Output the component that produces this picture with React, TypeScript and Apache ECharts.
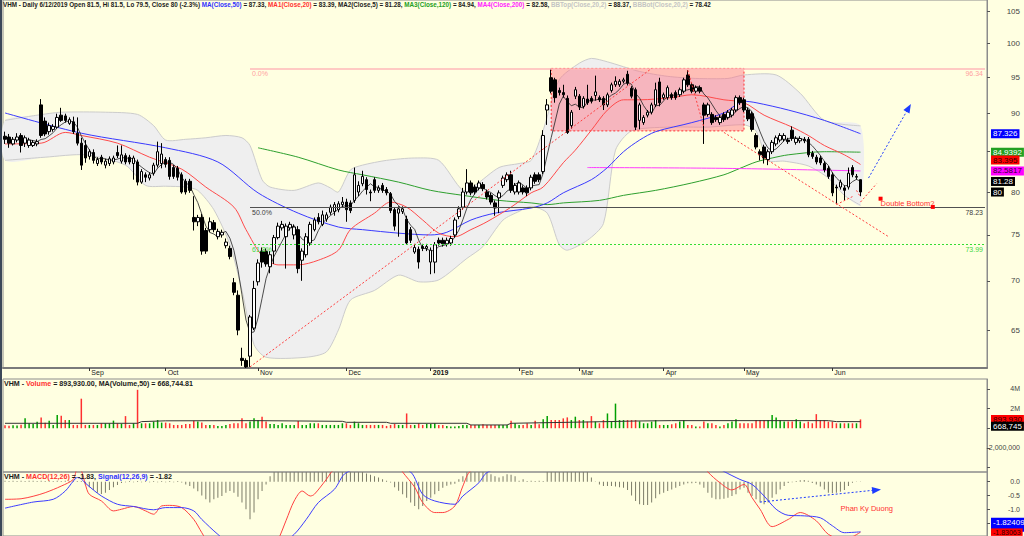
import React, { useEffect, useRef } from 'react';
import * as echarts from 'echarts';

const FONT = 'Liberation Sans, Arial, sans-serif';

// ---------- categories: trading days ----------
const TRADING_DAYS: [string, number[]][] = [
  ['2018-08', [3, 6, 7, 8, 9, 10, 13, 14, 15, 16, 17, 20, 21, 22, 23, 24, 27, 28, 29, 30, 31]],
  ['2018-09', [4, 5, 6, 7, 10, 11, 12, 13, 14, 17, 18, 19, 20, 21, 24, 25, 26, 27, 28]],
  ['2018-10', [1, 2, 3, 4, 5, 8, 9, 10, 11, 12, 15, 16, 17, 18, 19, 22, 23, 24, 25, 26, 29, 30, 31]],
  ['2018-11', [1, 2, 5, 6, 7, 8, 9, 12, 13, 14, 15, 16, 19, 20, 21, 22, 23, 26, 27, 28, 29, 30]],
  ['2018-12', [3, 4, 5, 6, 7, 10, 11, 12, 13, 14, 17, 18, 19, 20, 21, 24, 25, 26, 27, 28, 31]],
  ['2019-01', [2, 3, 4, 7, 8, 9, 10, 11, 14, 15, 16, 17, 18, 21, 22, 23, 24, 25, 28, 29, 30, 31]],
  ['2019-02', [1, 11, 12, 13, 14, 15, 18, 19, 20, 21, 22, 25, 26, 27, 28]],
  ['2019-03', [1, 4, 5, 6, 7, 8, 11, 12, 13, 14, 15, 18, 19, 20, 21, 22, 25, 26, 27, 28, 29]],
  ['2019-04', [1, 2, 3, 4, 5, 8, 9, 10, 11, 12, 16, 17, 18, 19, 22, 23, 24, 25, 26, 29]],
  ['2019-05', [2, 3, 6, 7, 8, 9, 10, 13, 14, 15, 16, 17, 20, 21, 22, 23, 24, 27, 28, 29, 30, 31]],
  ['2019-06', [3, 4, 5, 6, 7, 10, 11, 12]],
];
const EMPTY_SLOTS_AFTER = 31;
const MONTHS = ['Jan', 'Feb', 'Mar', 'Apr', 'May', 'Jun', 'Jul', 'Aug', 'Sep', 'Oct', 'Nov', 'Dec'];

// ---------- candles [open, close, low, high] ----------
const CANDLES: number[][] = [
  [87.0, 86.6, 86.0, 87.6], [86.9, 86.1, 85.5, 87.3], [86.0, 86.6, 85.8, 86.9], [86.5, 86.9, 86.2, 87.4], [87.1, 85.8, 84.9, 87.4],
  [86.1, 86.8, 85.6, 87.1], [85.8, 86.5, 85.5, 86.8], [85.8, 86.2, 85.6, 86.5], [86.0, 86.3, 85.7, 86.6], [91.2, 87.1, 86.8, 92.0],
  [89.0, 87.3, 87.0, 89.5], [87.6, 88.4, 87.2, 88.8], [87.9, 88.3, 87.6, 88.6], [88.2, 89.5, 88.0, 90.0], [89.8, 89.1, 88.9, 90.8],
  [89.7, 89.1, 88.8, 90.0], [88.7, 89.2, 88.5, 89.5], [88.9, 87.6, 87.3, 89.6], [87.4, 86.1, 85.8, 89.5], [86.1, 83.3, 82.7, 86.8],
  [85.8, 84.2, 83.6, 86.5], [84.4, 85.0, 84.0, 85.3], [84.9, 83.9, 83.5, 85.3], [83.5, 84.0, 83.2, 84.3], [84.3, 83.7, 83.4, 84.6],
  [83.3, 83.8, 82.9, 84.1], [83.5, 84.1, 83.2, 84.4], [83.7, 84.2, 83.4, 84.5], [84.9, 84.5, 84.2, 85.8], [83.8, 84.6, 83.5, 85.8],
  [84.5, 83.7, 83.4, 84.8], [84.3, 83.7, 83.4, 84.6], [83.5, 84.2, 81.5, 84.5], [83.7, 81.2, 80.8, 84.0], [81.2, 82.5, 81.0, 82.8],
  [82.1, 81.8, 81.2, 82.4], [81.7, 82.1, 81.4, 82.4], [82.3, 83.3, 82.0, 83.6], [83.3, 85.0, 83.0, 86.3], [83.5, 84.7, 82.9, 86.1],
  [84.0, 83.4, 83.0, 84.3], [83.9, 81.9, 81.5, 84.3], [83.0, 81.9, 81.6, 83.3], [82.9, 81.8, 81.4, 83.2], [82.1, 80.0, 79.8, 82.4],
  [81.3, 80.0, 79.7, 81.6], [81.3, 80.2, 79.9, 81.6], [77.0, 76.5, 75.5, 79.5], [76.5, 77.0, 76.0, 77.3], [77.0, 73.2, 72.8, 77.4],
  [75.5, 73.2, 72.9, 75.8], [75.6, 76.5, 75.3, 77.0], [76.4, 75.6, 75.3, 76.7], [74.8, 75.4, 74.5, 75.7], [75.0, 75.3, 74.7, 75.6],
  [73.8, 74.2, 73.5, 74.6], [73.5, 72.6, 72.3, 73.8], [69.8, 68.8, 68.5, 70.3], [68.5, 65.0, 64.5, 69.0], [62.3, 62.1, 61.6, 63.3],
  [62.1, 61.5, 61.4, 62.3], [62.5, 66.3, 61.5, 66.5], [65.2, 69.2, 65.0, 70.0], [69.9, 71.9, 69.5, 72.3], [73.2, 72.0, 71.4, 73.6],
  [73.2, 71.8, 71.5, 73.5], [71.5, 72.8, 70.8, 73.2], [73.2, 74.7, 71.8, 75.0], [74.7, 76.0, 74.5, 76.4], [75.8, 76.2, 75.5, 76.6],
  [74.8, 76.0, 71.3, 76.3], [75.8, 76.2, 75.5, 76.5], [75.0, 75.9, 74.5, 76.2], [75.6, 71.3, 70.8, 76.0], [72.2, 73.2, 70.0, 73.5],
  [72.8, 74.8, 72.5, 75.2], [74.1, 76.2, 73.8, 76.5], [75.6, 76.7, 75.4, 77.0], [77.0, 76.5, 76.2, 77.5], [76.2, 77.3, 76.0, 77.8],
  [76.8, 77.3, 76.5, 77.6], [77.6, 78.2, 77.3, 78.5], [77.7, 78.5, 77.2, 78.8], [77.9, 78.6, 77.6, 78.9], [78.5, 78.8, 78.2, 79.4],
  [78.8, 77.9, 76.5, 79.2], [78.7, 77.8, 77.5, 79.0], [79.0, 82.1, 78.7, 83.0], [80.0, 80.8, 79.5, 81.3], [81.0, 81.9, 80.7, 82.6],
  [81.5, 80.3, 79.7, 81.8], [80.0, 79.9, 78.9, 80.3], [81.5, 80.2, 79.9, 81.8], [80.2, 80.5, 79.9, 80.8], [80.8, 80.2, 79.9, 81.1],
  [80.3, 79.9, 79.6, 80.6], [79.8, 77.8, 77.5, 80.0], [77.9, 76.0, 75.5, 78.1], [77.5, 78.0, 74.8, 78.3], [77.7, 78.0, 77.4, 78.3],
  [76.8, 74.1, 73.9, 77.2], [75.6, 74.4, 74.1, 75.9], [73.1, 73.6, 72.9, 74.0], [73.4, 72.0, 71.3, 73.7], [73.7, 73.5, 73.2, 74.0],
  [73.5, 73.7, 73.2, 74.0], [72.0, 73.3, 70.7, 73.6], [72.0, 73.9, 70.8, 74.2], [74.4, 74.1, 73.8, 74.7], [74.4, 74.0, 73.7, 74.7],
  [74.0, 74.4, 73.7, 74.7], [74.1, 74.6, 73.8, 74.9], [75.0, 76.7, 74.7, 77.0], [77.1, 78.0, 76.8, 78.3], [78.2, 80.0, 77.9, 80.5],
  [80.0, 81.1, 79.7, 82.8], [81.1, 79.9, 79.6, 81.4], [80.6, 80.0, 79.7, 80.9], [80.5, 81.1, 80.2, 81.4], [80.9, 80.4, 80.1, 81.2],
  [80.0, 79.4, 79.1, 80.3], [79.6, 78.8, 78.5, 79.9], [78.7, 78.1, 77.2, 79.0], [79.3, 79.9, 77.5, 80.2], [80.8, 81.7, 80.5, 82.0],
  [81.5, 82.1, 81.2, 82.4], [82.1, 80.2, 79.9, 82.6], [80.0, 80.8, 79.7, 81.1], [80.0, 81.1, 79.7, 81.4], [80.5, 80.0, 79.7, 80.8],
  [80.5, 79.9, 79.5, 80.8], [80.5, 81.8, 80.2, 82.1], [82.1, 81.3, 81.0, 82.4], [82.1, 81.5, 81.2, 82.4], [82.5, 87.1, 82.2, 87.8],
  [90.5, 91.2, 88.5, 92.0], [95.0, 93.1, 92.8, 96.3], [94.7, 92.2, 91.5, 95.0], [93.2, 92.9, 92.5, 93.6], [92.9, 92.6, 92.2, 94.0],
  [92.1, 87.5, 87.3, 92.5], [88.4, 90.2, 88.0, 90.5], [92.4, 93.3, 92.0, 93.7], [92.4, 90.9, 90.5, 92.7], [91.0, 92.1, 90.7, 92.4],
  [92.0, 91.5, 91.2, 94.0], [92.1, 91.7, 91.4, 92.4], [92.5, 93.0, 91.8, 95.3], [92.2, 91.9, 91.6, 92.5], [92.1, 91.2, 90.5, 92.4],
  [91.2, 92.6, 90.9, 92.9], [93.2, 94.0, 92.9, 94.3], [94.0, 94.5, 93.7, 95.2], [94.0, 94.5, 93.7, 94.8], [94.5, 94.7, 94.2, 95.0],
  [95.5, 94.2, 93.9, 96.0], [93.5, 92.4, 92.1, 93.8], [93.3, 88.2, 87.8, 93.6], [89.1, 91.2, 87.9, 91.5], [88.8, 89.5, 88.5, 89.8],
  [89.8, 90.2, 89.5, 90.5], [90.2, 91.2, 89.9, 91.5], [91.2, 93.3, 90.9, 94.3], [94.4, 91.5, 91.0, 95.0], [92.2, 92.6, 91.9, 92.9],
  [92.2, 93.6, 91.9, 93.9], [92.6, 92.2, 91.9, 92.9], [92.9, 92.2, 91.9, 93.2], [92.6, 93.3, 92.3, 93.6], [93.1, 94.7, 92.8, 95.0],
  [95.4, 94.0, 93.7, 96.1], [94.0, 93.1, 92.8, 94.3], [93.1, 93.6, 92.8, 93.9], [93.6, 93.1, 92.8, 93.9], [91.2, 89.8, 86.0, 91.5],
  [89.9, 91.2, 89.6, 91.5], [89.9, 88.8, 88.5, 90.2], [89.5, 89.2, 88.9, 89.8], [88.8, 89.5, 88.5, 89.8], [89.9, 89.2, 88.9, 90.2],
  [89.5, 90.2, 89.2, 90.5], [89.8, 90.5, 89.5, 90.8], [90.5, 92.2, 90.2, 92.5], [92.2, 91.5, 91.2, 92.5], [91.9, 90.5, 90.2, 92.2],
  [90.5, 89.3, 89.0, 90.8], [90.0, 87.9, 87.6, 90.3], [87.1, 85.6, 85.3, 87.4], [85.0, 84.6, 83.9, 85.3], [85.6, 84.2, 83.5, 85.9],
  [84.0, 85.0, 83.3, 85.3], [85.0, 86.2, 84.7, 86.5], [86.0, 86.8, 85.7, 87.1], [86.5, 87.1, 86.2, 87.4], [86.6, 87.1, 86.3, 87.4],
  [86.5, 86.3, 86.0, 86.8], [87.8, 86.7, 86.4, 88.3], [86.2, 86.7, 85.9, 87.0], [86.4, 86.7, 86.1, 87.0], [86.6, 86.4, 86.1, 86.9],
  [86.6, 84.6, 84.3, 86.9], [84.8, 84.4, 84.1, 85.1], [84.3, 83.7, 83.4, 84.6], [84.2, 83.6, 83.3, 84.5], [83.5, 82.7, 82.4, 83.8],
  [82.9, 81.9, 81.6, 83.2], [82.1, 79.9, 79.5, 82.4], [80.6, 80.5, 78.6, 80.9], [80.6, 81.2, 80.3, 81.5], [80.5, 80.2, 79.0, 80.8],
  [80.6, 82.3, 80.3, 83.0], [83.0, 82.1, 81.8, 83.3], [81.8, 81.9, 81.5, 82.2], [81.5, 80.0, 79.5, 81.5],
];

// ---------- volume (thousand shares) ----------
const VOLUME_K = [
  300, 250, 300, 280, 350, 1000, 500, 430, 650, 1100,
  550, 750, 330, 1330, 1270, 830, 830, 330, 330, 3000,
  330, 330, 330, 330, 500, 500, 500, 770, 500, 450,
  1230, 330, 500, 3900, 500, 500, 500, 670, 830, 570,
  570, 500, 330, 330, 330, 430, 430, 770, 670, 570,
  330, 330, 330, 230, 230, 330, 430, 500, 500, 1000,
  500, 670, 1000, 830, 1170, 670, 430, 430, 330, 500,
  330, 330, 330, 730, 330, 330, 500, 500, 500, 330,
  330, 330, 330, 330, 500, 500, 330, 670, 500, 330,
  330, 330, 330, 330, 330, 230, 330, 430, 330, 330,
  1500, 330, 330, 500, 330, 430, 430, 500, 330, 330,
  230, 170, 170, 230, 330, 330, 330, 330, 330, 400,
  330, 330, 330, 330, 330, 330, 770, 500, 330, 330,
  500, 330, 770, 400, 900, 1230, 830, 830, 830, 1000,
  1100, 830, 1170, 830, 830, 670, 1230, 670, 500, 830,
  1500, 670, 2500, 830, 830, 830, 830, 830, 700, 500,
  500, 670, 830, 330, 330, 330, 400, 500, 670, 830,
  330, 330, 170, 170, 670, 500, 500, 330, 170, 330,
  500, 670, 900, 500, 500, 500, 500, 830, 830, 830,
  830, 1330, 1100, 830, 670, 670, 670, 900, 670, 500,
  670, 500, 1430, 830, 830, 670, 670, 500, 500, 500,
  500, 500, 500, 893.93,
];
const VOLUME_MA50_K: [number, number][] = [
  [0, 500], [33, 500], [34, 670], [40, 750], [62, 770], [84, 700], [85, 600], [95, 600], [96, 500],
  [115, 500], [116, 330], [125, 330], [126, 500], [150, 670], [157, 730], [166, 770], [205, 770], [207, 670], [213, 668.7],
];

// ---------- indicator lines [index, value] ----------
const MA50: [number, number][] = [
  [0, 90.1], [19, 87.4], [40, 85.5], [53, 83.7], [63, 79.9], [73, 77.5], [83, 75.9], [89, 75.6], [98, 75.2],
  [106, 75.0], [110, 75.3], [116, 76.7], [122, 77.5], [131, 78.1], [135, 78.7], [139, 79.9], [146, 81.5],
  [150, 83.0], [154, 85.0], [158, 86.5], [162, 87.6], [171, 88.8], [179, 90.1], [184, 91.7], [187, 91.5],
  [195, 90.5], [204, 89.1], [213, 87.33],
];
const MA20: [number, number][] = [
  [0, 86.0], [9, 86.1], [15, 87.5], [19, 87.1], [28, 86.1], [36, 84.3], [44, 82.8], [50, 80.6], [57, 78.2],
  [60, 75.6], [64, 72.7], [68, 71.7], [73, 71.7], [78, 72.2], [83, 73.3], [86, 75.6], [92, 77.5], [96, 78.8],
  [100, 78.2], [104, 76.7], [108, 75.2], [112, 74.8], [116, 75.6], [120, 76.5], [126, 78.2], [131, 79.9],
  [134, 80.6], [139, 83.6], [142, 85.2], [146, 87.8], [150, 90.5], [154, 91.9], [158, 91.9], [166, 92.2],
  [171, 92.6], [179, 91.9], [184, 91.5], [189, 89.8], [196, 88.2], [200, 87.1], [204, 85.8], [209, 84.6], [213, 83.39],
];
const MA120: [number, number][] = [
  [63, 85.5], [73, 84.3], [83, 82.7], [89, 82.1], [98, 81.2], [106, 80.2], [114, 79.6], [123, 79.0], [131, 78.7],
  [135, 78.5], [139, 78.7], [148, 79.0], [154, 79.6], [162, 80.2], [171, 81.1], [179, 82.1], [183, 82.9],
  [187, 83.7], [191, 84.2], [195, 84.6], [204, 85.0], [213, 84.94],
];
const MA200: [number, number][] = [[145, 83.0], [179, 82.9], [213, 82.58]];
const BB_UPPER: [number, number][] = [
  [0, 89.1], [8, 89.8], [14, 90.2], [25, 90.2], [33, 89.9], [37, 88.4], [40, 86.5], [45, 86.6], [50, 86.8],
  [55, 87.1], [59, 86.8], [61, 85.8], [64, 81.5], [66, 80.6], [72, 80.2], [78, 81.1], [81, 80.5], [83, 80.0],
  [86, 82.7], [89, 83.3], [95, 83.9], [102, 84.2], [108, 83.9], [114, 80.2], [117, 80.8], [123, 83.0],
  [128, 83.5], [131, 83.9], [134, 87.8], [138, 94.7], [143, 97.1], [146, 97.8], [150, 97.3], [158, 95.9],
  [165, 95.2], [172, 94.9], [180, 94.9], [184, 95.4], [192, 95.4], [198, 92.8], [204, 89.1], [213, 88.37],
];
const BB_LOWER: [number, number][] = [
  [0, 83.9], [10, 84.3], [20, 84.6], [30, 83.3], [35, 80.8], [40, 80.7], [45, 80.6], [48, 80.2], [52, 77.9],
  [56, 73.9], [59, 69.0], [62, 63.6], [65, 62.4], [75, 62.4], [80, 62.9], [83, 65.0], [86, 68.0], [92, 69.0],
  [98, 70.6], [103, 69.9], [108, 70.1], [115, 72.4], [119, 73.7], [124, 76.7], [128, 77.7], [131, 78.3],
  [135, 77.5], [138, 73.9], [140, 73.3], [145, 74.4], [149, 76.3], [152, 85.2], [156, 87.7], [165, 88.2],
  [175, 88.2], [184, 88.5], [187, 87.7], [190, 83.9], [194, 83.8], [200, 83.2], [205, 81.7], [209, 79.6], [213, 78.42],
];

// ---------- MACD ----------
const MACD_HIST = [
  0.03, 0.02, 0.03, 0.02, 0.03, 0.02, 0.03, 0.03, 0.02, 0.03, 0.02, 0.03, 0.02, 0.03, 0.02, 0.03, 0.02, 0.03, 0.02,
  0.02,
  -0.1, -0.2, -0.3, -0.4, -0.45, -0.4, -0.3, -0.2, -0.12, -0.05,
  -0.02, 0.02, -0.02, 0.02, -0.02, 0.02, -0.02, 0.02, -0.02, 0.02, -0.02, 0.02, -0.02, 0.02, -0.03,
  -0.1, -0.16, -0.25, -0.35, -0.5, -0.64, -0.76, -0.64, -0.58, -0.52, -0.4, -0.34, -0.4, -0.55, -0.76, -1.0, -1.36, -1.12, -0.64, -0.34, -0.1,
  0.2, 0.35, 0.5, 0.6, 0.7, 0.8, 0.85, 0.9, 0.9, 0.85, 0.8, 0.75, 0.7, 0.65, 0.6, 0.6, 0.55, 0.5, 0.5, 0.45, 0.45, 0.4, 0.4, 0.38, 0.3, 0.25, 0.2,
  0.15, 0.09, 0.03,
  -0.03, -0.2, -0.33, -0.46, -0.58, -0.76, -0.88, -1.0, -0.88, -0.7, -0.58, -0.46, -0.34, -0.22, -0.15, -0.1, -0.08,
  0.09, 0.2,
  0.4, 0.5, 0.55, 0.5, 0.45, 0.4,
  0.27, 0.2, 0.15, 0.2, 0.27,
  0.25, 0.2, 0.03, 0.09,
  0.02, 0.03, 0.02, 0.03, 0.02,
  0.4, 0.5, 0.6, 0.6, 0.55, 0.5, 0.5, 0.45, 0.45, 0.4, 0.38,
  0.15, 0.01,
  -0.1, -0.16, -0.16, -0.16, -0.18, -0.2, -0.22, -0.3, -0.5, -0.7, -0.82, -0.85, -0.85, -0.76, -0.6, -0.46, -0.4, -0.34,
  -0.28, -0.22, -0.16, -0.1, -0.06, -0.06, -0.05, -0.1, -0.22, -0.4, -0.58, -0.64, -0.64, -0.62, -0.58, -0.52, -0.46,
  -0.28, -0.22, -0.4, -0.52, -0.64, -0.76, -0.82, -0.76, -0.58, -0.46, -0.28, -0.16, -0.05, -0.02, 0.02, 0.05, 0.06,
  0.03, -0.05, -0.1, -0.18, -0.28, -0.4, -0.42, -0.4, -0.37, -0.3, -0.16, -0.04, -0.01, -0.01,
];
const MACD_LINE: [number, number][] = [
  [0, -0.64], [4, -0.62], [7, -0.53], [10, -0.4], [14, -0.16], [17, 0.08], [18, 0.45], [19, 0.4], [20, -0.1],
  [21, -0.46], [24, -0.7], [27, -1.06], [29, -1.0], [32, -0.9], [35, -1.06], [37, -1.18], [39, -0.88], [41, -0.86],
  [44, -0.94], [47, -1.37], [49, -1.85], [51, -2.3], [56, -2.9], [61, -3.3], [65, -2.8], [68, -2.1], [70, -1.4],
  [72, -0.7], [74, -0.34], [76, -0.52], [77, -0.46], [80, 0.08], [82, 0.45], [90, 0.9], [98, 0.6], [99, 0.35],
  [102, -0.2], [104, -0.76], [107, -1.12], [109, -1.12], [112, -0.88], [114, -0.16], [116, 0.4], [125, 1.0],
  [140, 1.5], [155, 1.8], [170, 1.2], [175, 0.35], [178, -0.04], [181, -0.3], [184, -0.1], [186, -0.58],
  [188, -1.0], [191, -1.63], [195, -1.37], [198, -1.12], [202, -1.42], [205, -1.91], [209, -2.1], [213, -1.83],
];
const SIGNAL_LINE: [number, number][] = [
  [0, -0.96], [7, -0.74], [12, -0.64], [15, -0.34], [17, 0.02], [18, 0.15], [19, 0.1], [20, -0.05], [22, -0.3],
  [24, -0.52], [28, -0.82], [32, -0.9], [37, -1.02], [40, -0.94], [44, -0.94], [47, -1.06], [49, -1.37],
  [53, -1.91], [60, -2.7], [66, -2.6], [72, -1.91], [75, -1.37], [78, -0.76], [82, -0.28], [85, 0.33], [95, 0.7],
  [101, 0.35], [104, -0.46], [107, -0.7], [112, -0.82], [114, -0.52], [118, -0.04], [120, 0.33], [130, 0.9],
  [150, 1.5], [170, 1.1], [179, 0.37], [183, 0.08], [186, -0.1], [189, -0.52], [192, -1.0], [195, -1.22],
  [199, -1.24], [203, -1.31], [206, -1.6], [209, -1.85], [213, -1.82],
];

// ---------- axis ticks ----------
const PRICE_TICKS = [65, 70, 75, 80, 85, 90, 95, 100, 105];
const PRICE_LABELS = [65, 70, 75, 80, 90, 95, 100, 105];
const VOLUME_TICKS = [-4e6, -2e6, 0, 2e6, 4e6];
const VOLUME_TICK_LABELS: [number, string][] = [[4e6, '4M'], [2e6, '2M'], [-2e6, '-2,000,000']];
const MACD_TICKS = [0, -0.5, -1.0, -1.5];
const MACD_LABELS = [0, -0.5, -1.0];

// ---------- annotations ----------
const FIB_LEVELS: [number, string][] = [[96.34, '0.0%'], [78.23, '50.0%'], [73.99, '61.8%']];
const FIB_START = 61;
const BOX: [[number, number], [number, number]] = [[136, 96.34], [184, 87.7]];
const RED_TRENDS: [[number, number], [number, number]][] = [
  [[61, 61.5], [161, 96.34]],
  [[170, 96.1], [174, 88.2]],
  [[179, 87.5], [220, 74.8]],
  [[207, 78.5], [211, 79.45]],
  [[212, 80.2], [213, 79.4]],
  [[213, 78.8], [217, 81.0]],
];
const BLUE_ARROW: [[number, number], [number, number]] = [[215, 81.7], [225, 90.8]];
const DB_SQUARES: [number, number][] = [[218, 79.2], [231, 78.23]];
const DB_TEXT: [number, number] = [218, 78.6];
const MACD_ARROW: [[number, number], [number, number]] = [[188, -0.74], [217, -0.3]];
const MACD_TEXT: [number, number] = [208, -0.99];
const PRICE_TAGS: [number, string][] = [[87.326, '87.326'], [84.9392, '84.9392'], [83.395, '83.395'], [82.5817, '82.5817'], [81.28, '81.28'], [80, '80']];
const VOLUME_TAGS: [number, string][] = [[893930, '893,930'], [668745, '668,745']];
const MACD_TAGS: [number, string][] = [[-1.82409, '-1.82409'], [-1.83063, '-1.83063']];

const CLEAR = 'rgba(0,0,0,0)';

function buildOption() {
  const dates = TRADING_DAYS.flatMap(([ym, days]) => days.map((d) => `${ym}-${String(d).padStart(2, '0')}`));
  const categories = dates.concat(Array.from({ length: EMPTY_SLOTS_AFTER }, (_, k) => `+${k + 1}`));
  const lastIdx = categories.length - 1;
  const monthLabels = categories.map((c, i) => {
    if (i === 0 || i >= dates.length) return '';
    const m = c.slice(5, 7);
    if (m === categories[i - 1].slice(5, 7)) return '';
    return m === '01' ? `{y|${c.slice(0, 4)}}` : MONTHS[+m - 1];
  });
  const showMonth = (i: number) => monthLabels[i] !== '';

  const ma5: [number, number][] = [];
  for (let i = 4; i < CANDLES.length; i++) {
    let s = 0;
    for (let k = i - 4; k <= i; k++) s += CANDLES[k][1];
    ma5.push([i, s / 5]);
  }

  const volData = VOLUME_K.map((v, i) => ({
    value: v * 1000,
    itemStyle: { color: CANDLES[i][1] > CANDLES[i][0] ? '#00a000' : '#ff3030' },
  }));

  const grids = [
    { left: 3, right: 37, top: 0, height: 368 },
    { left: 3, right: 37, top: 379, height: 93 },
    { left: 3, right: 37, top: 472, height: 64 },
  ].map((g) => ({ ...g, show: true, borderColor: '#8c8c8c', borderWidth: 1, backgroundColor: 'transparent' }));

  const xBase = { type: 'category', data: categories, boundaryGap: true };
  const txt = (size: number, color: string, extra: any = {}) => ({ fontSize: size, fontFamily: FONT, color, ...extra });

  const tag = (value: number, text: string, bg: string, fg: string, va: string, extra: any = {}) => ({
    yAxis: value,
    lineStyle: { color: CLEAR, width: 0 },
    label: {
      show: true, position: 'end', formatter: text, backgroundColor: bg, color: fg,
      fontSize: 8, fontFamily: FONT, padding: [1, 2, 0, 2], verticalAlign: va, distance: 4, ...extra,
    },
  });
  const priceTagStyles: [string, string, string][] = [
    ['#0000ff', '#ffffff', 'middle'], ['#22a022', '#ffffff', 'middle'], ['#ff0000', '#300000', 'bottom'],
    ['#ff00ff', '#300030', 'middle'], ['#000000', '#ffffff', 'middle'], ['#000000', '#ffffff', 'middle'],
  ];
  const fibStyles: any[] = [
    { color: '#ffb8b8', type: 'solid', width: 1.5, text: '#ffa0a0' },
    { color: '#505050', type: 'solid', width: 1, text: '#404040' },
    { color: '#33dd33', type: [2, 2], width: 1, text: '#44d844' },
  ];
  const fibLines: any[] = [];
  FIB_LEVELS.forEach(([v, pct], k) => {
    const st = fibStyles[k];
    fibLines.push([
      { coord: [FIB_START, v], lineStyle: { color: st.color, type: st.type, width: st.width },
        label: { show: true, position: 'insideStartBottom', formatter: pct, distance: 2, ...txt(7, st.text) } },
      { coord: [lastIdx, v] },
    ]);
    fibLines.push([
      { coord: [FIB_START, v], lineStyle: { color: CLEAR, width: 0 },
        label: { show: true, position: 'insideEndBottom', formatter: v.toFixed(2), distance: 2, ...txt(7, st.text) } },
      { coord: [lastIdx, v] },
    ]);
  });
  const trendLines = RED_TRENDS.map(([a, b]) => [
    { coord: a, lineStyle: { color: '#ff4040', type: [2, 2], width: 1 } },
    { coord: b },
  ]);
  const arrowLine = (a: number[], b: number[]) => [
    { coord: a, symbol: 'none', lineStyle: { color: '#1e3cff', type: [2, 2], width: 1 } },
    { coord: b, symbol: 'triangle', symbolSize: [7, 9] },
  ];

  const HS = 6.3;
  const PS = 7.1;
  const header = [
    '{k|VHM - Daily 6/12/2019 Open 81.5, Hi 81.5, Lo 79.5, Close 80 (-2.3%) }',
    '{b|MA(Close,50)}{k| = 87.33, }{r|MA1(Close,20)}{k| = 83.39, MA2(Close,5) = 81.28, }',
    '{g|MA3(Close,120)}{k| = 84.94, }{m|MA4(Close,200)}{k| = 82.58, }',
    '{l|BBTop(Close,20,2)}{k| = 88.37, }{l|BBBot(Close,20,2)}{k| = 78.42}',
  ].join('');
  const richOf = (s: number) => ({
    k: txt(s, '#1a1a1a'), b: txt(s, '#3030ff'), r: txt(s, '#ff3030'), g: txt(s, '#22a022'),
    m: txt(s, '#ff20ff'), l: txt(s, '#c4c4c4'),
  });

  return {
    animation: false,
    backgroundColor: '#ffffe1',
    textStyle: { fontFamily: FONT },
    title: [
      { text: header, left: 3, top: 1, padding: 0, textStyle: { ...txt(HS, '#1a1a1a'), rich: richOf(HS) } },
      { text: '{k|VHM - }{r|Volume}{k| = 893,930.00, MA(Volume,50) = 668,744.81}', left: 4, top: 380, padding: 0, textStyle: { ...txt(PS, '#1a1a1a'), rich: richOf(PS) } },
      { text: '{k|VHM - }{r|MACD(12,26)}{k| = -1.83, }{b|Signal(12,26,9)}{k| = -1.82}', left: 4, top: 473, padding: 0, textStyle: { ...txt(PS, '#1a1a1a'), rich: richOf(PS) } },
    ],
    grid: grids,
    xAxis: [
      {
        ...xBase, gridIndex: 0,
        axisLine: { show: true, lineStyle: { color: '#7a7a7a', width: 2 } },
        axisTick: { show: true, alignWithLabel: true, interval: showMonth, length: 3, lineStyle: { color: '#333' } },
        axisLabel: {
          show: true, interval: showMonth, formatter: (_v: string, i: number) => monthLabels[i],
          align: 'left', margin: 1, padding: [0, 0, 0, 2], ...txt(7, '#222'),
          rich: { y: txt(7, '#111', { fontWeight: 'bold' }) },
        },
        splitLine: { show: false },
      },
      { ...xBase, gridIndex: 1, show: false },
      { ...xBase, gridIndex: 2, show: false },
    ],
    yAxis: [
      {
        type: 'log', logBase: 10, gridIndex: 0, position: 'right', min: 61.4, max: 106.78,
        axisLine: { show: true, lineStyle: { color: '#8c8c8c' } },
        axisTick: { show: true, length: 3, customValues: PRICE_TICKS, lineStyle: { color: '#555' } },
        axisLabel: { show: true, customValues: PRICE_LABELS, formatter: (v: number) => String(Math.round(v)), align: 'right', margin: 33, ...txt(8, '#444') },
        splitLine: { show: false },
      },
      {
        type: 'value', gridIndex: 1, position: 'right', min: -4.45e6, max: 5e6,
        axisLine: { show: true, lineStyle: { color: '#8c8c8c' } },
        axisTick: { show: true, length: 3, customValues: VOLUME_TICKS, lineStyle: { color: '#555' } },
        axisLabel: {
          show: true, customValues: VOLUME_TICK_LABELS.map((t) => t[0]),
          formatter: (v: number) => { const f = VOLUME_TICK_LABELS.find((t) => Math.abs(t[0] - v) < 1); return f ? f[1] : ''; },
          align: 'right', margin: 33, ...txt(7, '#444'),
        },
        splitLine: { show: false },
      },
      {
        type: 'value', gridIndex: 2, position: 'right', min: -1.97, max: 0.35,
        axisLine: { show: true, lineStyle: { color: '#8c8c8c' } },
        axisTick: { show: true, length: 3, customValues: MACD_TICKS, lineStyle: { color: '#555' } },
        axisLabel: { show: true, customValues: MACD_LABELS, formatter: (v: number) => v.toFixed(1), align: 'right', margin: 33, ...txt(7, '#444') },
        splitLine: { show: false },
      },
    ],
    graphic: [
      { type: 'rect', shape: { x: 0, y: 0, width: 2, height: 536 }, style: { fill: '#3c4858' }, z: 100 },
    ],
    series: [
      {
        type: 'custom', name: 'BB', xAxisIndex: 0, yAxisIndex: 0, z: 0, silent: true,
        data: [[0, 80]],
        renderItem: (_p: any, api: any) => {
          const up = BB_UPPER.map(([i, v]) => api.coord([i, v]));
          const lo = BB_LOWER.map(([i, v]) => api.coord([i, v]));
          return {
            type: 'group',
            children: [
              { type: 'polygon', shape: { points: up.concat(lo.slice().reverse()), smooth: 0.25 }, style: { fill: '#efefef' } },
              { type: 'polyline', shape: { points: up, smooth: 0.25 }, style: { fill: null, stroke: '#cccccc', lineWidth: 1 } },
              { type: 'polyline', shape: { points: lo, smooth: 0.25 }, style: { fill: null, stroke: '#cccccc', lineWidth: 1 } },
            ],
          };
        },
      },
      {
        type: 'line', name: 'box', xAxisIndex: 0, yAxisIndex: 0, data: [], silent: true,
        markArea: {
          silent: true,
          itemStyle: { color: 'rgba(255,110,130,0.45)', borderColor: '#ff3030', borderWidth: 1, borderType: [2, 2] },
          label: { show: false },
          data: [[{ coord: BOX[0] }, { coord: BOX[1] }]],
        },
      },
      { type: 'line', name: 'MA120', xAxisIndex: 0, yAxisIndex: 0, data: MA120, smooth: 0.3, symbol: 'none', z: 3, lineStyle: { color: '#2ea02e', width: 1 } },
      { type: 'line', name: 'MA200', xAxisIndex: 0, yAxisIndex: 0, data: MA200, smooth: 0.3, symbol: 'none', z: 3, lineStyle: { color: '#ff3cff', width: 1 } },
      { type: 'line', name: 'MA50', xAxisIndex: 0, yAxisIndex: 0, data: MA50, smooth: 0.3, symbol: 'none', z: 3, lineStyle: { color: '#3a3aff', width: 1 } },
      { type: 'line', name: 'MA20', xAxisIndex: 0, yAxisIndex: 0, data: MA20, smooth: 0.3, symbol: 'none', z: 3, lineStyle: { color: '#ff4a4a', width: 1 } },
      { type: 'line', name: 'MA5', xAxisIndex: 0, yAxisIndex: 0, data: ma5, symbol: 'none', z: 3, lineStyle: { color: '#222', width: 0.8 } },
      {
        type: 'candlestick', name: 'VHM', xAxisIndex: 0, yAxisIndex: 0, data: CANDLES, barWidth: 3, z: 4,
        itemStyle: { color: '#ffffff', color0: '#000000', borderColor: '#000000', borderColor0: '#000000', borderWidth: 1 },
      },
      {
        type: 'line', name: 'notes', xAxisIndex: 0, yAxisIndex: 0, data: [], silent: true, clip: false,
        markLine: {
          silent: true, symbol: 'none', label: { show: false },
          data: [
            ...fibLines,
            ...trendLines,
            arrowLine(BLUE_ARROW[0], BLUE_ARROW[1]),
            ...PRICE_TAGS.map(([v, t], k) => tag(v, t, priceTagStyles[k][0], priceTagStyles[k][1], priceTagStyles[k][2])),
          ],
        },
        markPoint: {
          silent: true,
          data: [
            ...DB_SQUARES.map((c) => ({ coord: c, symbol: 'rect', symbolSize: 4, itemStyle: { color: '#ff0000' }, label: { show: false } })),
            { coord: DB_TEXT, symbol: 'circle', symbolSize: 0.1, itemStyle: { color: CLEAR },
              label: { show: true, position: 'right', distance: 0, formatter: 'Double Bottom?', ...txt(7.5, '#ff3030') } },
          ],
        },
      },
      {
        type: 'bar', name: 'Volume', xAxisIndex: 1, yAxisIndex: 1, data: volData, barWidth: 1.5, silent: true,
      },
      {
        type: 'line', name: 'VolMA', xAxisIndex: 1, yAxisIndex: 1, data: VOLUME_MA50_K.map(([i, v]) => [i, v * 1000]),
        symbol: 'none', lineStyle: { color: '#333', width: 1 }, silent: true,
      },
      {
        type: 'line', name: 'volNotes', xAxisIndex: 1, yAxisIndex: 1, data: [], silent: true, clip: false,
        markLine: {
          silent: true, symbol: 'none', label: { show: false },
          data: [
            tag(VOLUME_TAGS[0][0], VOLUME_TAGS[0][1], '#ff0000', '#300000', 'middle'),
            tag(VOLUME_TAGS[1][0], VOLUME_TAGS[1][1], '#000000', '#ffffff', 'top'),
          ],
        },
      },
      {
        type: 'bar', name: 'Hist', xAxisIndex: 2, yAxisIndex: 2, data: MACD_HIST, barWidth: 1, silent: true,
        itemStyle: { color: '#7c7c68' },
      },
      { type: 'line', name: 'MACD', xAxisIndex: 2, yAxisIndex: 2, data: MACD_LINE, smooth: 0.3, symbol: 'none', lineStyle: { color: '#ff4040', width: 1 } },
      { type: 'line', name: 'Signal', xAxisIndex: 2, yAxisIndex: 2, data: SIGNAL_LINE, smooth: 0.3, symbol: 'none', lineStyle: { color: '#3c3cff', width: 1 } },
      {
        type: 'line', name: 'macdNotes', xAxisIndex: 2, yAxisIndex: 2, data: [], silent: true, clip: false,
        markLine: {
          silent: true, symbol: 'none', label: { show: false },
          data: [
            arrowLine(MACD_ARROW[0], MACD_ARROW[1]),
            tag(MACD_TAGS[0][0], MACD_TAGS[0][1], '#0000ff', '#ffffff', 'bottom', { padding: [1, 2, 5, 2] }),
            tag(MACD_TAGS[1][0], MACD_TAGS[1][1], '#ff0000', '#300000', 'middle', { padding: [0, 2, 0, 2], fontSize: 7, lineHeight: 7.5 }),
          ],
        },
        markPoint: {
          silent: true,
          data: [
            { coord: MACD_TEXT, symbol: 'circle', symbolSize: 0.1, itemStyle: { color: CLEAR },
              label: { show: true, position: 'right', distance: 0, formatter: 'Phan Ky Duong', ...txt(7.5, '#ff3030') } },
          ],
        },
      },
    ],
  };
}

export default function App() {
  const ref = useRef<HTMLDivElement>(null);
  useEffect(() => {
    document.body.style.margin = '0';
    document.body.style.background = '#ffffe1';
    const chart = echarts.init(ref.current as HTMLDivElement, null, { renderer: 'svg' });
    chart.setOption(buildOption() as any);
    return () => chart.dispose();
  }, []);
  return <div ref={ref} style={{ width: 1024, height: 536 }} />;
}
